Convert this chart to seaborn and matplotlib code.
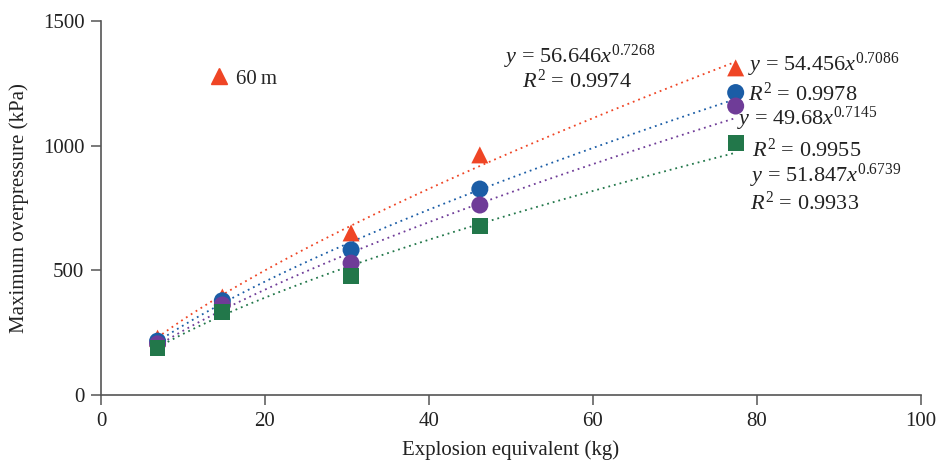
import numpy as np
import pandas as pd
import matplotlib
matplotlib.use('Agg')
import matplotlib.pyplot as plt
from matplotlib.lines import Line2D
import seaborn as sns

# data
charge = [6.9, 14.8, 30.5, 46.2, 77.4]
p_red = [228, 393, 650, 963, 1312]
p_blue = [216, 378, 582, 826, 1213]
p_purple = [205, 361, 529, 762, 1159]
p_green = [190, 334, 477, 678, 1011]

series = ['s1', 's2', 's3', 's4']
colors = ['#EF4525', '#1B5DA6', '#6F3C98', '#22774A']
markers = ['^', 'o', 'o', 's']
msizes = [150, 150, 150, 130]

# power-law fits y = a x^b as printed on the chart
fit_a = [56.646, 54.456, 49.68, 51.847]
fit_b = [0.7268, 0.7086, 0.7145, 0.6739]

df = pd.DataFrame({
    'x': charge * 4,
    'y': p_red + p_blue + p_purple + p_green,
    'series': np.repeat(series, len(charge)),
})

sns.set_style('white')
plt.rcParams['font.family'] = ['Liberation Serif', 'DejaVu Serif']
plt.rcParams['mathtext.fontset'] = 'custom'
plt.rcParams['mathtext.rm'] = 'Liberation Serif'
plt.rcParams['mathtext.it'] = 'Liberation Serif:italic'

fig = plt.figure(figsize=(9.42, 4.67), dpi=100)
ax = fig.add_axes([0.1072, 0.1542, 0.8705, 0.8008])

xx = np.linspace(min(charge), max(charge), 100)
for a, b, c in zip(fit_a, fit_b, colors):
    sns.lineplot(x=xx, y=a * xx ** b, ax=ax, color=c, linestyle=(0, (1, 2.2)), lw=1.3)

for s, c, m, ms in zip(series, colors, markers, msizes):
    sns.scatterplot(data=df[df.series == s], x='x', y='y', ax=ax, color=c,
                    marker=m, s=ms, edgecolor='none', legend=False, zorder=3)

ax.set_xlim(0, 100)
ax.set_ylim(0, 1500)
ax.set_xticks(range(0, 101, 20))
ax.set_yticks(range(0, 1501, 500))
ax.set_xlabel('Explosion equivalent (kg)', fontsize=15, color='#222222', labelpad=7)
ax.set_ylabel('Maximum overpressure (kPa)', fontsize=15, color='#222222', labelpad=10)
ax.tick_params(axis='both', labelsize=15, labelcolor='#222222', color='#555555',
               direction='out', length=7, width=1.1, pad=5, left=True, bottom=True)
for sp in ['top', 'right']:
    ax.spines[sp].set_visible(False)
for sp in ['left', 'bottom']:
    ax.spines[sp].set_color('#555555')
    ax.spines[sp].set_linewidth(1.2)

tkw = dict(fontsize=16, color='#222222')
ax.text(58.4, 1355, '$y$ = 56.646$x^{0.7268}$', ha='center', va='center', **tkw)
ax.text(58.1, 1260, '$R^2$ = 0.9974', ha='center', va='center', **tkw)
ax.text(78.9, 1322, '$y$ = 54.456$x^{0.7086}$', ha='left', va='center', **tkw)
ax.text(78.9, 1205, '$R^2$ = 0.9978', ha='left', va='center', **tkw)
ax.text(77.6, 1108, '$y$ = 49.68$x^{0.7145}$', ha='left', va='center', **tkw)
ax.text(79.4, 982, '$R^2$ = 0.9955', ha='left', va='center', **tkw)
ax.text(79.2, 880, '$y$ = 51.847$x^{0.6739}$', ha='left', va='center', **tkw)
ax.text(79.2, 770, '$R^2$ = 0.9933', ha='left', va='center', **tkw)

h = Line2D([], [], color=colors[0], marker='^', linestyle='none', markersize=11)
ax.legend(handles=[h], labels=['60\u2009m'], loc='center left', frameon=False,
          bbox_to_anchor=(0.106, 0.845), fontsize=15, handletextpad=0.2,
          handlelength=1.2)

fig.savefig('out.png', dpi=100)
